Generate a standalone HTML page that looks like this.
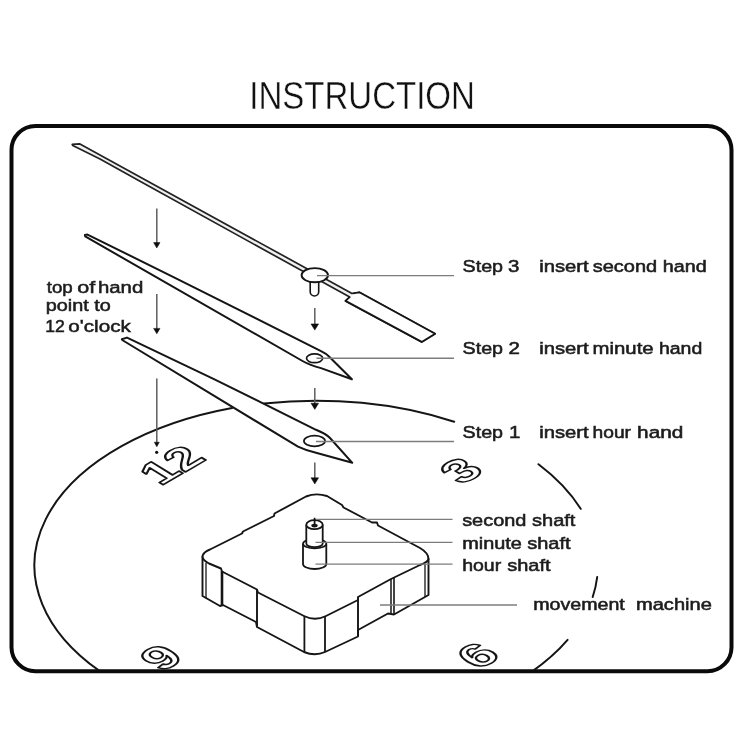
<!DOCTYPE html>
<html><head><meta charset="utf-8"><title>Instruction</title>
<style>
html,body{margin:0;padding:0;background:#fff;}
body{width:750px;height:750px;overflow:hidden;font-family:"Liberation Sans",sans-serif;}
svg{display:block;will-change:transform;filter:grayscale(1);}
text{font-family:"Liberation Sans",sans-serif;}
</style></head><body>
<svg width="750" height="750" viewBox="0 0 750 750">
<rect width="750" height="750" fill="#fff"/>
<rect x="11.5" y="126" width="720" height="545.2" rx="24" ry="24" fill="none" stroke="#0a0a0a" stroke-width="4"/>
<defs><clipPath id="inner"><rect x="12" y="126.5" width="719" height="544" rx="23" ry="23"/></clipPath></defs>
<g clip-path="url(#inner)">
<path d="M99.8 671.1A281.7 164.9 0 0 1 232.1 408.1 M264.0 403.5A281.7 164.9 0 0 1 454.2 421.8 M538.5 464.2A281.7 164.9 0 0 1 580.7 508.8 M597.2 577.0A281.7 164.9 0 0 1 592.7 597.0 M567.6 639.9A281.7 164.9 0 0 1 531.6 671.8" fill="none" stroke="#151515" stroke-width="2.0" stroke-linecap="round"/>
<text transform="matrix(0.88 -0.51 0.756 0.465 160.5 486.3)" x="0" y="0" font-size="48" font-weight="bold" fill="#fff" stroke="#151515" stroke-width="2.1" stroke-linejoin="round">12</text>
<text transform="matrix(0.88 -0.51 0.756 0.465 461.8 485.3)" x="0" y="0" font-size="49" font-weight="bold" fill="#fff" stroke="#151515" stroke-width="2.1" stroke-linejoin="round">3</text>
<text transform="matrix(0.88 -0.51 0.756 0.465 478.4 670.3)" x="0" y="0" font-size="49" font-weight="bold" fill="#fff" stroke="#151515" stroke-width="2.1" stroke-linejoin="round">6</text>
<text transform="matrix(0.88 -0.51 0.756 0.465 161.7 672.2)" x="0" y="0" font-size="49" font-weight="bold" fill="#fff" stroke="#151515" stroke-width="2.1" stroke-linejoin="round">9</text>
</g>
<path d="M306 496.5 Q316 492.5 327 496 L342 505 L343.5 507.5 L372 522.5 L377 522.5 L378 525.5 L420 548 Q428.5 553 428.5 559 Q428 562 420 565 L391 579 L358 597 L358 600 L326 616 Q315 621.5 304 616 L258 592.5 L257 589.5 L222 571.5 L221 568.5 L209 563.5 Q202 560 202.5 556 Q203.5 552 210 549.5 L242 533.5 L243 531.5 L274 516 L274.5 513.5 Z" fill="#fff" stroke="#151515" stroke-width="1.9" stroke-linejoin="round"/>
<path d="M202.5 557 L202.5 596 L220 606 L223 605 L256 622 L257 627 L304 652 Q315 656.5 325 652 L358 636.5 L358 630 L388 613.5 L394 614.5 L428.5 595 L428.5 559" fill="none" stroke="#151515" stroke-width="1.9" stroke-linejoin="round" stroke-linecap="round"/>
<path d="M206 563V598" stroke="#151515" stroke-width="1.3" fill="none"/>
<path d="M222 571V606" stroke="#151515" stroke-width="2.6" fill="none"/>
<path d="M257 590V626" stroke="#151515" stroke-width="1.9" fill="none"/>
<path d="M304.4 616V652" stroke="#151515" stroke-width="1.8" fill="none"/>
<path d="M325 616V652" stroke="#151515" stroke-width="1.8" fill="none"/>
<path d="M358 599V636" stroke="#151515" stroke-width="1.9" fill="none"/>
<path d="M391 579V613" stroke="#151515" stroke-width="1.5" fill="none"/>
<path d="M394 578V614" stroke="#151515" stroke-width="1.6" fill="none"/>
<path d="M425 564V597" stroke="#151515" stroke-width="1.3" fill="none"/>
<path d="M303 543.7 V564 A11.65 5 0 0 0 326.3 564 V543.7" fill="#fff" stroke="#151515" stroke-width="1.8"/>
<ellipse cx="314.65" cy="543.7" rx="11.65" ry="4.6" fill="#fff" stroke="#151515" stroke-width="1.7"/>
<path d="M306.3 524.7 V543.6 A8.2 3.6 0 0 0 322.7 543.6 V524.7" fill="#fff" stroke="#151515" stroke-width="1.8"/>
<ellipse cx="314.5" cy="524.7" rx="8.2" ry="4.5" fill="#fff" stroke="#151515" stroke-width="1.8"/>
<ellipse cx="314.5" cy="525.6" rx="3.2" ry="1.9" fill="#151515"/>
<path d="M314.6 525 V517.8" stroke="#151515" stroke-width="1.8"/>
<path d="M121.9 339.2L127 337.6L215 379.6L316 429.8Q325.5 433.6 330 438L352.3 462.8L316 452.7Q306 450.6 298 446.7L122.2 340Z" fill="#fff" stroke="#151515" stroke-width="2" stroke-linejoin="round"/>
<ellipse cx="314.5" cy="441" rx="10.6" ry="5.4" fill="#fff" stroke="#151515" stroke-width="1.7"/>
<path d="M84.9 235L87.5 234.6L175 277.8L321.5 351.4Q326.5 353.8 329 356.5L351.9 379.2L321 368.1Q310 365.3 302.5 361L85.2 236.4Z" fill="#fff" stroke="#151515" stroke-width="2" stroke-linejoin="round"/>
<ellipse cx="314.6" cy="358.3" rx="8.1" ry="4.4" fill="#fff" stroke="#151515" stroke-width="1.7"/>
<path d="M72.2 144.4 L79.5 143.8 L352.9 293.9 L359.3 292.3 L435.1 333.7 L421.7 341.9 L345.5 300.9 L349.7 297.1 L140 181.3 L100 159 L72.8 145.5Z" fill="#f0f0f0" stroke="#222" stroke-width="1.7" stroke-linejoin="round" stroke-linecap="round"/>
<path d="M352.9 293.4 L359.3 292.3 L435.1 333.7 L421.7 341.9 L345.5 300.9 L349.7 297.1" fill="#fff" stroke="#151515" stroke-width="1.8" stroke-linejoin="round" stroke-linecap="round"/>
<path d="M310.2 281 V291.8 A4.25 4.25 0 0 0 318.7 291.8 V281" fill="#fff" stroke="#151515" stroke-width="1.6"/>
<ellipse cx="314.8" cy="275.2" rx="13.2" ry="7.1" fill="#fff" stroke="#151515" stroke-width="1.9"/>
<path d="M317 275.6H454" stroke="#7c7c7c" stroke-width="1.4" fill="none"/>
<path d="M316.5 358.3H454" stroke="#7c7c7c" stroke-width="1.4" fill="none"/>
<path d="M316 441.5H454" stroke="#7c7c7c" stroke-width="1.4" fill="none"/>
<path d="M316 519.4H452.5" stroke="#7c7c7c" stroke-width="1.4" fill="none"/>
<path d="M315.5 542.4H452.5" stroke="#7c7c7c" stroke-width="1.4" fill="none"/>
<path d="M315.5 564.1H452.5" stroke="#7c7c7c" stroke-width="1.4" fill="none"/>
<path d="M380 605H517" stroke="#7c7c7c" stroke-width="1.4" fill="none"/>
<path d="M156.8 208.4V243.6" stroke="#5e5e5e" stroke-width="1.5" fill="none"/>
<path d="M153.60000000000002 242.6L160.0 242.6L156.8 248Z" fill="#0c0c0c" stroke="#0c0c0c" stroke-width="0.5" stroke-linejoin="round"/>
<path d="M156.8 294V329.40000000000003" stroke="#5e5e5e" stroke-width="1.5" fill="none"/>
<path d="M153.60000000000002 328.40000000000003L160.0 328.40000000000003L156.8 333.8Z" fill="#0c0c0c" stroke="#0c0c0c" stroke-width="0.5" stroke-linejoin="round"/>
<path d="M156.8 378.4V443.2" stroke="#5e5e5e" stroke-width="1.5" fill="none"/>
<path d="M154.3 442.2L159.3 442.2L156.8 446.8Z" fill="#0c0c0c" stroke="#0c0c0c" stroke-width="0.5" stroke-linejoin="round"/>
<circle cx="156.7" cy="452.3" r="1.6" fill="#111"/>
<path d="M314.8 308V324.90000000000003" stroke="#5e5e5e" stroke-width="1.5" fill="none"/>
<path d="M311.0 323.90000000000003L318.6 323.90000000000003L314.8 330.1Z" fill="#0c0c0c" stroke="#0c0c0c" stroke-width="0.5" stroke-linejoin="round"/>
<path d="M314.8 388V404.2" stroke="#5e5e5e" stroke-width="1.5" fill="none"/>
<path d="M311.0 403.2L318.6 403.2L314.8 409.4Z" fill="#0c0c0c" stroke="#0c0c0c" stroke-width="0.5" stroke-linejoin="round"/>
<path d="M314.8 462.6V478.8" stroke="#5e5e5e" stroke-width="1.5" fill="none"/>
<path d="M311.0 477.8L318.6 477.8L314.8 484Z" fill="#0c0c0c" stroke="#0c0c0c" stroke-width="0.5" stroke-linejoin="round"/>
<text x="249.3" y="109.2" font-size="38.4" font-weight="normal" fill="#111" stroke="#fff" stroke-width="0.4" textLength="225.6" lengthAdjust="spacingAndGlyphs" xml:space="preserve">INSTRUCTION</text>
<text x="46.78" y="292.7" font-size="16" fill="#1c1c1c" stroke="#1c1c1c" stroke-width="0.5" textLength="26.03" lengthAdjust="spacingAndGlyphs">top</text>
<text x="77.30" y="292.7" font-size="16" fill="#1c1c1c" stroke="#1c1c1c" stroke-width="0.5" textLength="17.94" lengthAdjust="spacingAndGlyphs">of</text>
<text x="97.96" y="292.7" font-size="16" fill="#1c1c1c" stroke="#1c1c1c" stroke-width="0.5" textLength="45.29" lengthAdjust="spacingAndGlyphs">hand</text>
<text x="45.78" y="311.2" font-size="16" fill="#1c1c1c" stroke="#1c1c1c" stroke-width="0.5" textLength="43.02" lengthAdjust="spacingAndGlyphs">point</text>
<text x="94.31" y="311.2" font-size="16" fill="#1c1c1c" stroke="#1c1c1c" stroke-width="0.5" textLength="16.54" lengthAdjust="spacingAndGlyphs">to</text>
<text x="45.28" y="331.9" font-size="16" fill="#1c1c1c" stroke="#1c1c1c" stroke-width="0.5" textLength="19.52" lengthAdjust="spacingAndGlyphs">12</text>
<text x="68.39" y="331.9" font-size="16" fill="#1c1c1c" stroke="#1c1c1c" stroke-width="0.5" textLength="62.42" lengthAdjust="spacingAndGlyphs">o'clock</text>
<text x="462.58" y="272.2" font-size="16.9" fill="#1c1c1c" stroke="#1c1c1c" stroke-width="0.55" textLength="40.45" lengthAdjust="spacingAndGlyphs">Step</text>
<text x="508.00" y="272.2" font-size="16.9" fill="#1c1c1c" stroke="#1c1c1c" stroke-width="0.55" textLength="11.40" lengthAdjust="spacingAndGlyphs">3</text>
<text x="539.17" y="272.2" font-size="16.9" fill="#1c1c1c" stroke="#1c1c1c" stroke-width="0.55" textLength="49.43" lengthAdjust="spacingAndGlyphs">insert</text>
<text x="592.78" y="272.2" font-size="16.9" fill="#1c1c1c" stroke="#1c1c1c" stroke-width="0.55" textLength="64.46" lengthAdjust="spacingAndGlyphs">second</text>
<text x="662.74" y="272.2" font-size="16.9" fill="#1c1c1c" stroke="#1c1c1c" stroke-width="0.55" textLength="43.90" lengthAdjust="spacingAndGlyphs">hand</text>
<text x="462.58" y="354.3" font-size="16.9" fill="#1c1c1c" stroke="#1c1c1c" stroke-width="0.55" textLength="40.45" lengthAdjust="spacingAndGlyphs">Step</text>
<text x="508.40" y="354.3" font-size="16.9" fill="#1c1c1c" stroke="#1c1c1c" stroke-width="0.55" textLength="11.40" lengthAdjust="spacingAndGlyphs">2</text>
<text x="539.17" y="354.3" font-size="16.9" fill="#1c1c1c" stroke="#1c1c1c" stroke-width="0.55" textLength="49.43" lengthAdjust="spacingAndGlyphs">insert</text>
<text x="592.57" y="354.3" font-size="16.9" fill="#1c1c1c" stroke="#1c1c1c" stroke-width="0.55" textLength="61.07" lengthAdjust="spacingAndGlyphs">minute</text>
<text x="658.96" y="354.3" font-size="16.9" fill="#1c1c1c" stroke="#1c1c1c" stroke-width="0.55" textLength="43.30" lengthAdjust="spacingAndGlyphs">hand</text>
<text x="462.58" y="437.5" font-size="16.9" fill="#1c1c1c" stroke="#1c1c1c" stroke-width="0.55" textLength="40.45" lengthAdjust="spacingAndGlyphs">Step</text>
<text x="509.00" y="437.5" font-size="16.9" fill="#1c1c1c" stroke="#1c1c1c" stroke-width="0.55" textLength="11.40" lengthAdjust="spacingAndGlyphs">1</text>
<text x="539.17" y="437.5" font-size="16.9" fill="#1c1c1c" stroke="#1c1c1c" stroke-width="0.55" textLength="49.43" lengthAdjust="spacingAndGlyphs">insert</text>
<text x="592.57" y="437.5" font-size="16.9" fill="#1c1c1c" stroke="#1c1c1c" stroke-width="0.55" textLength="38.43" lengthAdjust="spacingAndGlyphs">hour</text>
<text x="637.10" y="437.5" font-size="16.9" fill="#1c1c1c" stroke="#1c1c1c" stroke-width="0.55" textLength="46.19" lengthAdjust="spacingAndGlyphs">hand</text>
<text x="462.17" y="526.1" font-size="17" fill="#1c1c1c" stroke="#1c1c1c" stroke-width="0.55" textLength="64.25" lengthAdjust="spacingAndGlyphs">second</text>
<text x="531.98" y="526.1" font-size="17" fill="#1c1c1c" stroke="#1c1c1c" stroke-width="0.55" textLength="43.45" lengthAdjust="spacingAndGlyphs">shaft</text>
<text x="462.18" y="548.6" font-size="17" fill="#1c1c1c" stroke="#1c1c1c" stroke-width="0.55" textLength="59.63" lengthAdjust="spacingAndGlyphs">minute</text>
<text x="527.19" y="548.6" font-size="17" fill="#1c1c1c" stroke="#1c1c1c" stroke-width="0.55" textLength="43.41" lengthAdjust="spacingAndGlyphs">shaft</text>
<text x="462.16" y="571.4" font-size="17" fill="#1c1c1c" stroke="#1c1c1c" stroke-width="0.55" textLength="39.05" lengthAdjust="spacingAndGlyphs">hour</text>
<text x="507.19" y="571.4" font-size="17" fill="#1c1c1c" stroke="#1c1c1c" stroke-width="0.55" textLength="43.41" lengthAdjust="spacingAndGlyphs">shaft</text>
<text x="533.18" y="610.3" font-size="17" fill="#1c1c1c" stroke="#1c1c1c" stroke-width="0.55" textLength="91.62" lengthAdjust="spacingAndGlyphs">movement</text>
<text x="635.97" y="610.3" font-size="17" fill="#1c1c1c" stroke="#1c1c1c" stroke-width="0.55" textLength="75.86" lengthAdjust="spacingAndGlyphs">machine</text>
</svg>
</body></html>
